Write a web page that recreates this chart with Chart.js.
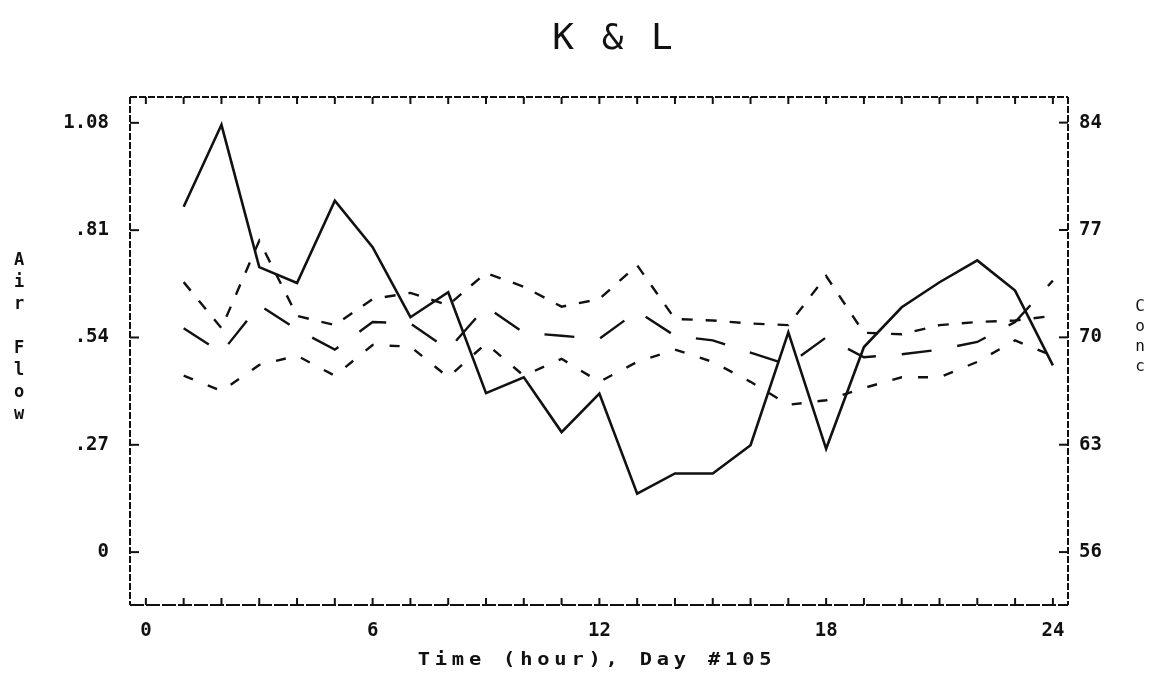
<!DOCTYPE html>
<html>
<head>
<meta charset="utf-8">
<script src="https://cdn.jsdelivr.net/npm/chart.js@4.4.0/dist/chart.umd.min.js"></script>
<style>
  html, body { margin: 0; padding: 0; background: #fff; }
  canvas { display: block; }
</style>
</head>
<body>
<canvas id="chart" width="1155" height="677"></canvas>
<script>
// hourly readings, day #105
const hours = [1, 2, 3, 4, 5, 6, 7, 8, 9, 10, 11, 12, 13, 14, 15, 16, 17, 18, 19, 20, 21, 22, 23, 24];
const airFlow = [0.869, 1.075, 0.717, 0.677, 0.884, 0.767, 0.591, 0.654, 0.400, 0.440, 0.302, 0.399,
                 0.147, 0.198, 0.198, 0.269, 0.553, 0.260, 0.516, 0.616, 0.679, 0.734, 0.658, 0.470];
const concA = [73.6, 70.6, 76.3, 71.4, 70.8, 72.5, 72.9, 72.1, 74.2, 73.3, 72.0, 72.5,
               74.7, 71.2, 71.1, 70.9, 70.8, 74.0, 70.3, 70.2, 70.8, 71.0, 71.1, 71.4];
const concB = [70.6, 69.0, 72.1, 70.5, 69.2, 71.0, 70.9, 69.2, 72.0, 70.3, 70.1, 69.9,
               71.7, 70.1, 69.8, 69.0, 68.2, 70.0, 68.7, 68.9, 69.2, 69.7, 71.0, 73.7];
const concC = [67.5, 66.5, 68.2, 68.8, 67.5, 69.5, 69.4, 67.4, 69.6, 67.5, 68.6, 67.1,
               68.4, 69.2, 68.4, 67.1, 65.6, 65.9, 66.7, 67.4, 67.4, 68.4, 69.8, 68.8];

const timeTicks = [0, 6, 12, 18, 24];
const airTicks = [0, 0.27, 0.54, 0.81, 1.08];
const airTickLabels = ['0', '.27', '.54', '.81', '1.08'];
const concTicks = [56, 63, 70, 77, 84];

const INK = '#111';
const MONO = '"DejaVu Sans Mono", "Liberation Mono", monospace';

const pts = (vals) => hours.map((h, i) => ({ x: h, y: vals[i] }));

function line(ctx, x1, y1, x2, y2) {
  ctx.beginPath();
  ctx.moveTo(x1, y1);
  ctx.lineTo(x2, y2);
  ctx.stroke();
}

// frame, inward tick marks and the plotter-style captions
const plotterFrame = {
  id: 'plotterFrame',
  afterDraw(chart) {
    const { ctx, chartArea: { left, right, top, bottom }, scales: { x, y, y1 } } = chart;
    ctx.save();
    ctx.strokeStyle = INK;
    ctx.lineWidth = 2;

    ctx.setLineDash([7, 2]);
    line(ctx, left, top, left, bottom);
    line(ctx, right, top, right, bottom);
    line(ctx, left, top, right, top);
    ctx.setLineDash([14, 2]);
    line(ctx, left, bottom, right, bottom);
    ctx.setLineDash([]);

    for (let h = 0; h <= 24; h++) {
      const px = x.getPixelForValue(h);
      line(ctx, px, bottom, px, bottom - 7);
      line(ctx, px, top, px, top + 7);
    }
    airTicks.forEach(v => {
      const py = y.getPixelForValue(v);
      line(ctx, left, py, left + 9, py);
    });
    concTicks.forEach(v => {
      const py = y1.getPixelForValue(v);
      line(ctx, right, py, right - 9, py);
    });

    ctx.fillStyle = INK;
    ctx.textAlign = 'center';
    ctx.textBaseline = 'middle';

    // title
    ctx.font = '36px ' + MONO;
    ctx.letterSpacing = '3px';
    ctx.fillText('K & L', 614, 40);

    // x axis caption
    ctx.save();
    ctx.translate(597, 661);
    ctx.scale(1.2, 1);
    ctx.font = 'bold 17px ' + MONO;
    ctx.letterSpacing = '4px';
    ctx.fillText('Time (hour), Day #105', 0, 0);
    ctx.restore();

    ctx.letterSpacing = '0px';
    // stacked y captions
    ctx.font = 'bold 17px ' + MONO;
    'Air Flow'.split('').forEach((c, i) => ctx.fillText(c, 19, 261 + i * 22));
    ctx.font = '16px ' + MONO;
    'Conc'.split('').forEach((c, i) => ctx.fillText(c, 1140, 307 + i * 20));

    ctx.restore();
  }
};

const tickFont = { family: MONO, size: 19, weight: 'bold' };

new Chart(document.getElementById('chart'), {
  type: 'line',
  data: {
    datasets: [
      { label: 'Air Flow', data: pts(airFlow), yAxisID: 'y', borderColor: INK, borderWidth: 2.6 },
      { label: 'Conc A', data: pts(concA), yAxisID: 'y1', borderColor: INK, borderWidth: 2.4, borderDash: [11, 13] },
      { label: 'Conc B', data: pts(concB), yAxisID: 'y1', borderColor: INK, borderWidth: 2.4, borderDash: [30, 26] },
      { label: 'Conc C', data: pts(concC), yAxisID: 'y1', borderColor: INK, borderWidth: 2.4, borderDash: [10, 16] }
    ]
  },
  options: {
    responsive: false,
    animation: false,
    devicePixelRatio: 1,
    layout: { padding: { top: 97, left: 0, right: 0, bottom: 0 } },
    elements: { point: { radius: 0 }, line: { tension: 0, fill: false } },
    plugins: { legend: { display: false }, tooltip: { enabled: false } },
    scales: {
      x: {
        type: 'linear',
        min: -0.42,
        max: 24.4,
        afterBuildTicks: s => { s.ticks = timeTicks.map(v => ({ value: v })); },
        afterFit: s => { s.height = 72; },
        grid: { display: false, drawTicks: false },
        border: { display: false },
        ticks: { color: INK, font: tickFont, padding: 15, maxRotation: 0 }
      },
      y: {
        position: 'left',
        min: -0.133,
        max: 1.145,
        afterBuildTicks: s => { s.ticks = airTicks.map(v => ({ value: v })); },
        afterFit: s => { s.width = 130; },
        grid: { display: false, drawTicks: false },
        border: { display: false },
        ticks: {
          color: INK, font: tickFont, padding: 21,
          callback: (v, i) => airTickLabels[i]
        }
      },
      y1: {
        position: 'right',
        min: 52.55,
        max: 85.67,
        afterBuildTicks: s => { s.ticks = concTicks.map(v => ({ value: v })); },
        afterFit: s => { s.width = 87; },
        grid: { display: false, drawTicks: false },
        border: { display: false },
        ticks: { color: INK, font: tickFont, padding: 11 }
      }
    }
  },
  plugins: [plotterFrame]
});
</script>
</body>
</html>
